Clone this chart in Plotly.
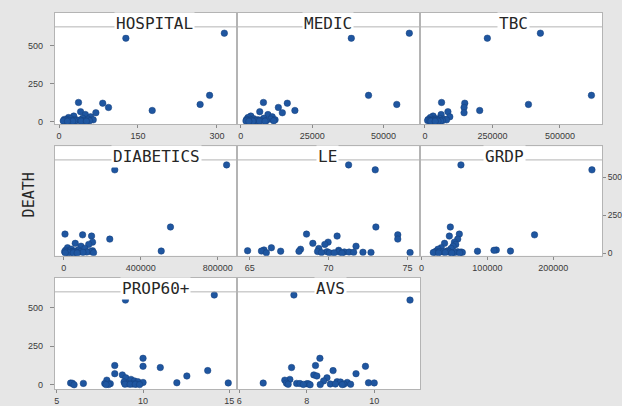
import plotly.graph_objects as go

# ---------------- data ----------------
DEATH = [583, 550, 172, 125, 120, 112, 92, 72, 64, 57, 45, 35, 30, 25, 20, 18, 15,
         13, 12, 11, 10, 9, 8, 7, 6, 5, 5, 4, 3, 3, 2, 1, 1, 0]
HOSPITAL = [314, 127, 286, 37, 83, 268, 94, 177, 41, 70, 50, 28, 60, 18, 45, 22, 55,
            10, 15, 32, 65, 40, 25, 12, 35, 48, 20, 58, 30, 8, 42, 26, 52, 16]
MEDIC = [59070, 38730, 44770, 7920, 16290, 54670, 13150, 18950, 6630, 14550, 9500,
         3500, 11000, 2500, 8000, 4500, 10500, 2000, 3000, 6000, 12000, 5000, 4000,
         2200, 7000, 9000, 3800, 11500, 5500, 1800, 6500, 4200, 8500, 2800]
TBC = [427400, 231000, 616400, 61500, 147400, 383200, 144800, 202700, 85000, 144800,
       60000, 30000, 92000, 20000, 55000, 40000, 70000, 12000, 25000, 45000, 80000,
       35000, 15000, 50000, 28000, 65000, 10000, 42000, 18000, 32000, 58000, 22000,
       48000, 38000]
DIABETICS = [846400, 265300, 554800, 6700, 98200, 144800, 239400, 150000, 60000,
             130000, 90000, 20000, 110000, 40000, 75000, 10000, 150000, 506700, 30000,
             55000, 140000, 5000, 85000, 45000, 120000, 15000, 65000, 100000, 35000,
             25000, 155000, 50000, 8000, 70000]
LE = [71.27, 72.96, 73.0, 68.6, 74.39, 70.54, 74.39, 69.97, 69.0, 69.76, 71.74, 66.37,
      69.38, 68.22, 65.9, 70.64, 64.86, 65.74, 66.96, 68.12, 69.3, 69.9, 70.64, 71.0,
      71.3, 71.59, 72.18, 72.69, 75.17, 69.55, 70.05, 70.35, 66.05, 70.85]
GRDP = [59900, 258600, 43800, 57400, 171500, 42300, 55000, 50000, 35000, 52000, 48000,
        30000, 45000, 25000, 113500, 110000, 40000, 135000, 85000, 22000, 38000, 28000,
        55000, 33000, 60000, 20000, 43000, 62000, 36000, 18000, 50000, 26000, 58000,
        46000]
PROP60 = [14.13, 8.98, 10.0, 8.36, 10.0, 11.0, 13.75, 8.36, 8.8, 12.54, 9.0, 9.3, 7.9,
          9.5, 9.7, 8.9, 10.0, 11.96, 14.94, 5.8, 5.9, 6.54, 7.78, 8.1, 9.1, 9.4, 9.6,
          8.95, 9.25, 9.55, 8.0, 7.85, 9.8, 6.0]
AVS = [7.62, 11.06, 8.39, 8.26, 9.74, 7.55, 8.78, 9.46, 8.21, 8.3, 8.6, 7.5, 7.35, 8.5,
       8.9, 9.0, 9.2, 9.83, 10.0, 6.71, 7.4, 7.7, 7.8, 8.0, 8.05, 8.7, 8.85, 9.1, 9.3,
       7.45, 7.9, 8.4, 9.05, 8.1]

PANEL_TITLES = ["HOSPITAL", "MEDIC", "TBC", "DIABETICS", "LE", "GRDP", "PROP60+", "AVS"]
PANEL_VALUES = [HOSPITAL, MEDIC, TBC, DIABETICS, LE, GRDP, PROP60, AVS]
X_TICKS = [[0, 150, 300], [0, 25000, 50000], [0, 250000, 500000],
           [0, 400000, 800000], [65, 70, 75], [0, 100000, 200000],
           [5, 10, 15], [6, 8, 10]]
Y_TICKS = [0, 250, 500]

# ---------------- layout geometry ----------------
W, H = 622, 406
COLS = [(53, 236), (236, 420.5), (420.5, 603)]
ROWS = [(13, 125), (147, 257), (279, 391)]
YRANGES = [[-20, 717], [-18, 706], [-28, 696]]
HEADER = [27, 160.7, 293.3]
XRANGES = [[-8.1, 337.8], [-1396, 62980], [-16580, 655860],
           [-46500, 899700], [64.18, 75.83], [-1500, 274000],
           [4.88, 15.44], [5.93, 11.37]]
TITLE_X = [153, 328, 514, 155, 327, 505, 154, 330]
YSIDE = ["left", None, None, None, None, "right", "left", None]

BORDER = "#b4b4b4"
TICKC = "#8a8a8a"
TXT = "#3a3a3a"
MARK = "#1f56a0"

fig = go.Figure()
shapes, annotations = [], []
for i, (title, vals) in enumerate(zip(PANEL_TITLES, PANEL_VALUES)):
    r, c = divmod(i, 3)
    n = i + 1
    xs = "x" if n == 1 else f"x{n}"
    ys = "y" if n == 1 else f"y{n}"
    fig.add_trace(go.Scatter(
        x=vals, y=DEATH, mode="markers", xaxis=xs, yaxis=ys, showlegend=False,
        marker=dict(size=6.5, color=MARK, line=dict(width=0.5, color="#16407c"))))
    xd = [COLS[c][0] / W, COLS[c][1] / W]
    yd = [1 - ROWS[r][1] / H, 1 - ROWS[r][0] / H]
    xkey = "xaxis" if n == 1 else f"xaxis{n}"
    ykey = "yaxis" if n == 1 else f"yaxis{n}"
    right = YSIDE[i] == "right"
    fig.update_layout(**{
        xkey: dict(domain=xd, anchor=ys, range=XRANGES[i], tickvals=X_TICKS[i],
                   ticktext=[str(v) for v in X_TICKS[i]], showgrid=False,
                   zeroline=False, showline=True, mirror=True, linecolor=BORDER,
                   linewidth=1, ticks="outside", ticklen=3, tickcolor=TICKC,
                   tickfont=dict(family="Liberation Sans", size=9, color=TXT),
                   ticklabelstandoff=0),
        ykey: dict(domain=yd, anchor=xs, range=YRANGES[r], showgrid=False,
                   zeroline=False, showline=True, mirror=True, linecolor=BORDER,
                   linewidth=1,
                   tickvals=Y_TICKS if YSIDE[i] else [],
                   ticks="outside" if YSIDE[i] else "",
                   ticklen=3 if right else 4, tickcolor=TICKC,
                   side=YSIDE[i] or "left",
                   showticklabels=bool(YSIDE[i]),
                   tickfont=dict(family="Liberation Sans", size=8.5 if right else 9,
                                 color=TXT),
                   ticklabelstandoff=0 if right else 5),
    })
    # header strip line
    shapes.append(dict(type="line", xref="paper", yref="paper",
                       x0=xd[0], x1=xd[1], y0=1 - HEADER[r] / H, y1=1 - HEADER[r] / H,
                       line=dict(color=BORDER, width=1)))
    annotations.append(dict(text=title, xref="paper", yref="paper",
                            x=TITLE_X[i] / W, y=1 - (ROWS[r][0] + 10.5) / H,
                            xanchor="center", yanchor="middle", showarrow=False,
                            bgcolor="white", borderpad=1,
                            font=dict(family="DejaVu Sans Mono", size=16, color="#262626")))

annotations.append(dict(text="DEATH", xref="paper", yref="paper", x=27.5 / W,
                        y=1 - 196 / H, textangle=-90, showarrow=False,
                        xanchor="center", yanchor="middle",
                        font=dict(family="DejaVu Sans Mono", size=15, color="#262626")))

fig.update_layout(width=W, height=H, margin=dict(l=0, r=0, t=0, b=0),
                  paper_bgcolor="#e6e6e6", plot_bgcolor="white",
                  shapes=shapes, annotations=annotations)
fig.write_html("out.html", config={"displayModeBar": False},
               post_script="document.body.style.margin='0';"
                           "document.body.style.overflow='hidden';")
